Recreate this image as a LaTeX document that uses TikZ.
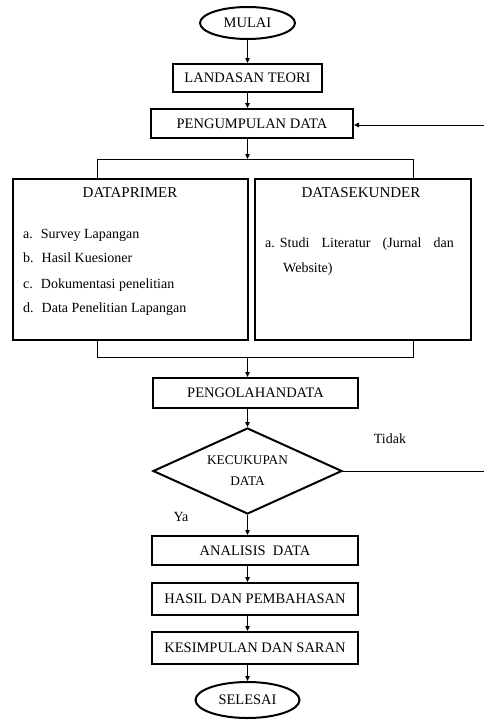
\documentclass[tikz,border=0pt]{standalone}
\usepackage{fontspec}
\setmainfont{Liberation Serif}
\usetikzlibrary{shapes.geometric,arrows.meta}
\begin{document}
\begin{tikzpicture}[x=1pt,y=-1pt,
  box/.style={draw,line width=2pt,rectangle,inner sep=0pt,font=\fontsize{14.5}{16}\selectfont},
  ell/.style={draw,line width=2pt,ellipse,inner sep=0pt,font=\fontsize{14.5}{16}\selectfont},
  dia/.style={draw,line width=2pt,diamond,inner sep=0pt,align=center,font=\fontsize{13.3}{21}\selectfont},
  conn/.style={line width=0.8pt},
  arr/.style={conn,-{Triangle[length=5pt,width=4.5pt]}},
  item/.style={anchor=base west,inner sep=0pt,font=\fontsize{14}{16}\selectfont},
  lbl/.style={inner sep=0pt,font=\fontsize{14}{16}\selectfont}]
\useasboundingbox (0,0) rectangle (484,720);
\node[ell,minimum width=95pt,minimum height=32pt] (mulai) at (247.5,23) {MULAI};
\node[box,minimum width=149pt,minimum height=28pt] (landasan) at (247.5,78) {LANDASAN TEORI};
\node[box,minimum width=202pt,minimum height=29pt] (kumpul) at (252,123.5) {PENGUMPULAN DATA};
\node[box,minimum width=235pt,minimum height=161pt] (primer) at (130.5,259.5) {};
\node[box,minimum width=216pt,minimum height=161pt] (sekunder) at (363,259.5) {};
\node[box,minimum width=205pt,minimum height=30pt] (olah) at (255.5,393) {PENGOLAHANDATA};
\node[dia,minimum width=189pt,minimum height=86pt,shape aspect=2.2] (cukup) at (247.5,471) {KECUKUPAN\\DATA};
\node[box,minimum width=206pt,minimum height=29pt] (analisis) at (255,550.5) {ANALISIS\ \ DATA};
\node[box,minimum width=206pt,minimum height=32pt] (hasil) at (255,599) {HASIL DAN PEMBAHASAN};
\node[box,minimum width=206pt,minimum height=32pt] (simpul) at (255,648) {KESIMPULAN DAN SARAN};
\node[ell,minimum width=104pt,minimum height=36pt] (selesai) at (247.5,700) {SELESAI};
% box contents
\node[lbl,font=\fontsize{15}{16}\selectfont] (ptitle) at (130,193) {DATAPRIMER};
\node[lbl,font=\fontsize{15}{16}\selectfont] (stitle) at (361,193) {DATASEKUNDER};
\node[item] (pa) at (23,238) {a.\hspace{8pt}Survey Lapangan};
\node[item] (pb) at (23,262) {b.\hspace{8pt}Hasil Kuesioner};
\node[item] (pc) at (23,288) {c.\hspace{8pt}Dokumentasi penelitian};
\node[item] (pd) at (23,312) {d.\hspace{8pt}Data Penelitian Lapangan};
\node[item] (sa) at (265,247) {a.\hspace{5pt}\makebox[174pt][s]{Studi Literatur (Jurnal dan}};
\node[item] (sb) at (283,272) {Website)};
% labels
\node[lbl] (tidak) at (390,439) {Tidak};
\node[lbl] (ya) at (181,517) {Ya};
% coordinates
\coordinate (sp) at (247.5,159);
\coordinate (spl) at (97,159);
\coordinate (spr) at (413,159);
\coordinate (mg) at (247.5,357);
\coordinate (mgl) at (97,357);
\coordinate (mgr) at (413,357);
\coordinate (e1) at (484,125);
\coordinate (e2) at (484,471);
% connectors
\draw[arr] (mulai.south) -- (mulai.south |- landasan.north);
\draw[arr] (landasan.south) -- (landasan.south |- kumpul.north);
\draw[arr] (landasan.south |- kumpul.south) -- (sp);
\draw[conn] (spl |- primer.north) -- (spl) -- (spr) -- (spr |- sekunder.north);
\draw[conn] (mgl |- primer.south) -- (mgl) -- (mgr) -- (mgr |- sekunder.south);
\draw[arr] (mg) -- (mg |- olah.north);
\draw[arr] (mg |- olah.south) -- (cukup.north);
\draw[arr] (cukup.south) -- (cukup.south |- analisis.north);
\draw[arr] (cukup.south |- analisis.south) -- (cukup.south |- hasil.north);
\draw[arr] (cukup.south |- hasil.south) -- (cukup.south |- simpul.north);
\draw[arr] (cukup.south |- simpul.south) -- (selesai.north);
\draw[arr] (e1) -- (e1 -| kumpul.east);
\draw[conn] (cukup.east) -- (e2);
\end{tikzpicture}
\end{document}
